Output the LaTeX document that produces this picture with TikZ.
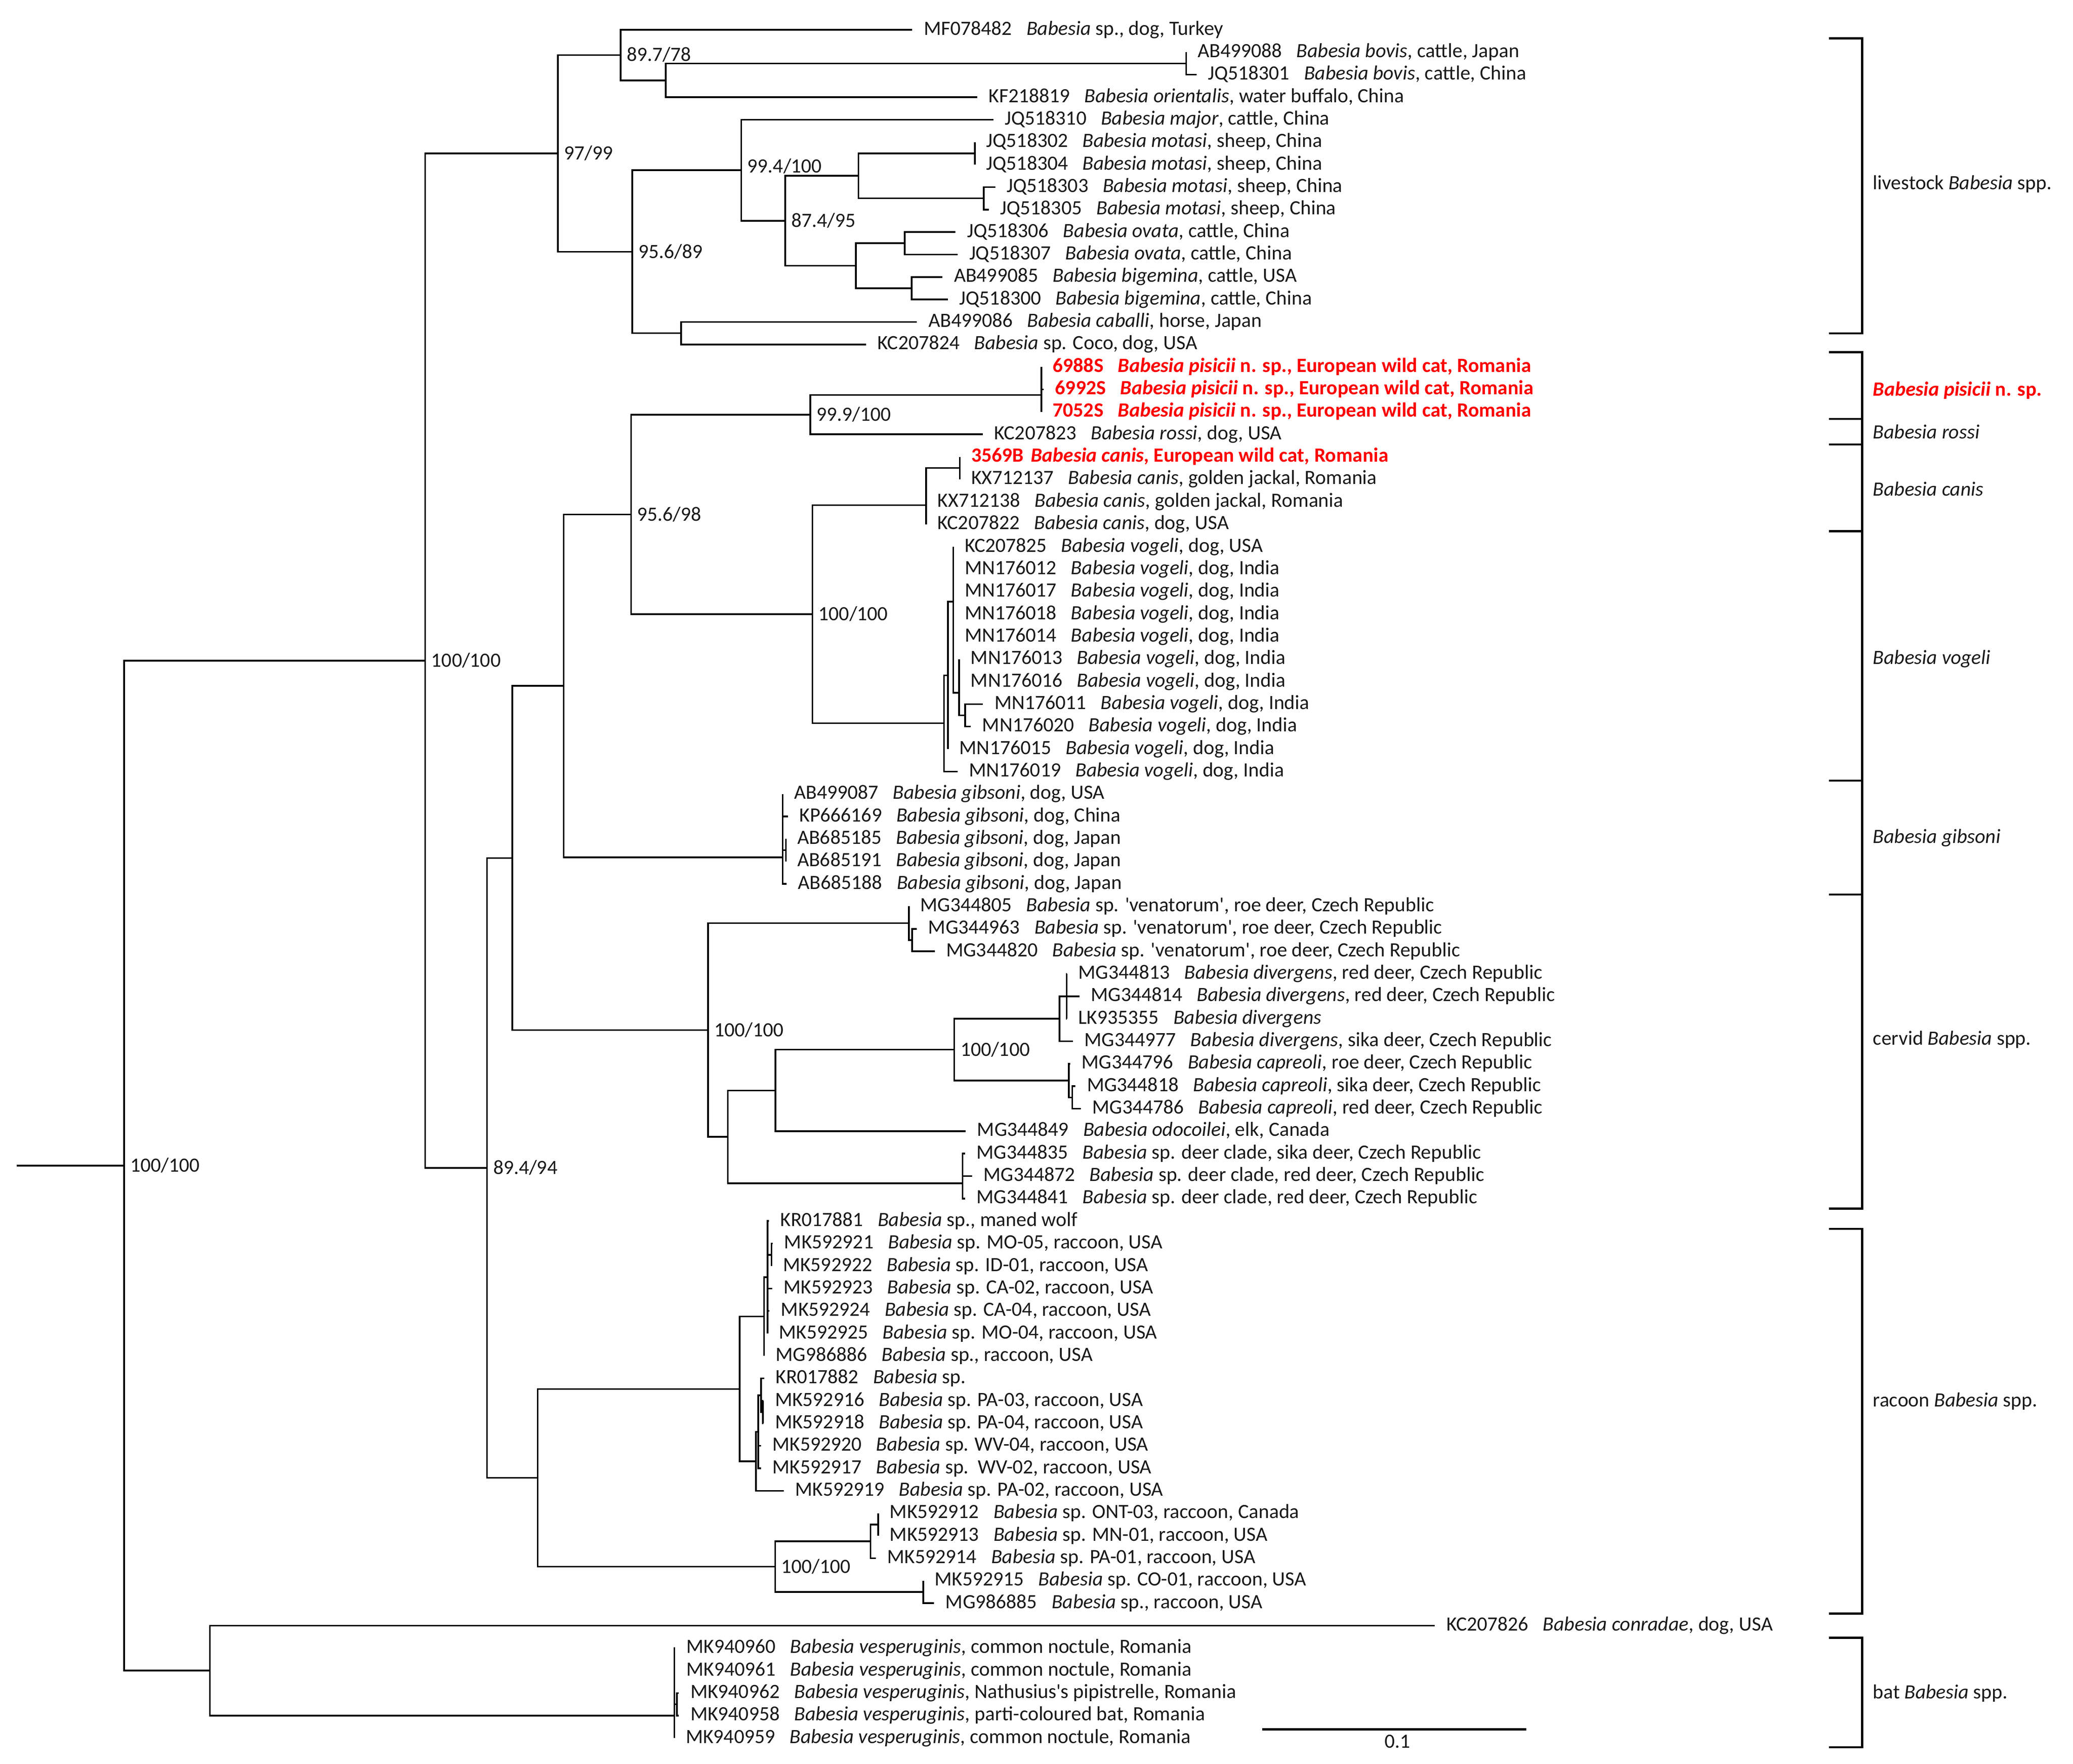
\documentclass[tikz,border=0pt]{standalone}
\usepackage{fontspec}
\setmainfont{Carlito}
\usetikzlibrary{calc}
\definecolor{txt}{RGB}{25,25,25}
\definecolor{pred}{RGB}{255,0,0}
\newcommand\Bab{\textit{Babesia}}
\newcommand\sq{\textquotesingle}
\newcommand\lf[6][11pt]{\coordinate (#2) at (#3,#4); \node[leaf] (t#2) at (#2) {#5\hspace{#1}#6};}
\newcommand\rlf[6][11pt]{\coordinate (#2) at (#3,#4); \node[leaf,text=pred] (t#2) at (#2) {\bfseries #5\hspace{#1}#6};}
\newcommand\nd[3]{\coordinate (#1) at (#2,#3);}
\newcommand\ed[2]{\foreach \ch in {#2}{\draw[br] (\ch) -| (#1);}}
\begin{document}
\begin{tikzpicture}[x=1pt,y=-1pt,
  br/.style={line width=1.25pt, black},
  leaf/.style={anchor=base west, inner sep=0pt, xshift=8.5pt, yshift=-3.9pt, text=txt, font=\fontsize{15.3}{18}\selectfont},
  bs/.style={anchor=base west, inner sep=0pt, xshift=4.5pt, yshift=-4.8pt, text=txt, font=\fontsize{15.3}{18}\selectfont},
  clade/.style={anchor=base west, inner sep=0pt, yshift=-4.8pt, text=txt, font=\fontsize{15.3}{18}\selectfont},
  brk/.style={line width=1.6pt, black}]
\useasboundingbox (0,0) rectangle (1568,1333.8);
% ---------------- leaves ----------------
\lf{L1}{690.1}{22.5}{MF078482}{\Bab{} sp., dog, Turkey}
\lf{L2}{897.2}{39.5}{AB499088}{\textit{Babesia bovis}, cattle, Japan}
\lf{L3}{905}{56.5}{JQ518301}{\textit{Babesia bovis}, cattle, China}
\lf{L4}{739.1}{73.5}{KF218819}{\textit{Babesia orientalis}, water buffalo, China}
\lf{L5}{751.4}{90.5}{JQ518310}{\textit{Babesia major}, cattle, China}
\lf{L6}{737.4}{107.5}{JQ518302}{\textit{Babesia motasi}, sheep, China}
\lf{L7}{737.4}{124.5}{JQ518304}{\textit{Babesia motasi}, sheep, China}
\lf{L8}{752.8}{141.5}{JQ518303}{\textit{Babesia motasi}, sheep, China}
\lf{L9}{747.9}{158.5}{JQ518305}{\textit{Babesia motasi}, sheep, China}
\lf{L10}{722.8}{175.5}{JQ518306}{\textit{Babesia ovata}, cattle, China}
\lf{L11}{724.5}{192.5}{JQ518307}{\textit{Babesia ovata}, cattle, China}
\lf{L12}{712.9}{209.5}{AB499085}{\textit{Babesia bigemina}, cattle, USA}
\lf{L13}{717}{226.5}{JQ518300}{\textit{Babesia bigemina}, cattle, China}
\lf{L14}{693.6}{243.5}{AB499086}{\textit{Babesia caballi}, horse, Japan}
\lf{L15}{655.2}{260.5}{KC207824}{\Bab{} sp. Coco, dog, USA}
\rlf{L16}{787.7}{277.5}{6988S}{\textit{Babesia pisicii} n. sp., European wild cat, Romania}
\rlf{L17}{789.5}{294.5}{6992S}{\textit{Babesia pisicii} n. sp., European wild cat, Romania}
\rlf{L18}{787.7}{311.5}{7052S}{\textit{Babesia pisicii} n. sp., European wild cat, Romania}
\lf{L19}{743.4}{328.5}{KC207823}{\textit{Babesia rossi}, dog, USA}
\rlf[5.5pt]{L20}{725.9}{345.5}{3569B}{\textit{Babesia canis}, European wild cat, Romania}
\lf{L21}{725.9}{362.5}{KX712137}{\textit{Babesia canis}, golden jackal, Romania}
\lf{L22}{700.5}{379.5}{KX712138}{\textit{Babesia canis}, golden jackal, Romania}
\lf{L23}{700.5}{396.5}{KC207822}{\textit{Babesia canis}, dog, USA}
\lf{L24}{721}{413.5}{KC207825}{\textit{Babesia vogeli}, dog, USA}
\lf{L25}{721}{430.5}{MN176012}{\textit{Babesia vogeli}, dog, India}
\lf{L26}{721}{447.5}{MN176017}{\textit{Babesia vogeli}, dog, India}
\lf{L27}{721}{464.5}{MN176018}{\textit{Babesia vogeli}, dog, India}
\lf{L28}{721}{481.5}{MN176014}{\textit{Babesia vogeli}, dog, India}
\lf{L29}{725.5}{498.5}{MN176013}{\textit{Babesia vogeli}, dog, India}
\lf{L30}{725.5}{515.5}{MN176016}{\textit{Babesia vogeli}, dog, India}
\lf{L31}{743.5}{532.5}{MN176011}{\textit{Babesia vogeli}, dog, India}
\lf{L32}{734.3}{549.5}{MN176020}{\textit{Babesia vogeli}, dog, India}
\lf{L33}{717}{566.5}{MN176015}{\textit{Babesia vogeli}, dog, India}
\lf{L34}{724.3}{583.5}{MN176019}{\textit{Babesia vogeli}, dog, India}
\lf{L35}{592}{600.5}{AB499087}{\textit{Babesia gibsoni}, dog, USA}
\lf{L36}{596}{617.5}{KP666169}{\textit{Babesia gibsoni}, dog, China}
\lf{L37}{594.4}{634.5}{AB685185}{\textit{Babesia gibsoni}, dog, Japan}
\lf{L38}{594.4}{651.5}{AB685191}{\textit{Babesia gibsoni}, dog, Japan}
\lf{L39}{595}{668.5}{AB685188}{\textit{Babesia gibsoni}, dog, Japan}
\lf{L40}{687.4}{685.5}{MG344805}{\Bab{} sp. \sq venatorum\sq, roe deer, Czech Republic}
\lf{L41}{693.5}{702.5}{MG344963}{\Bab{} sp. \sq venatorum\sq, roe deer, Czech Republic}
\lf{L42}{707}{719.5}{MG344820}{\Bab{} sp. \sq venatorum\sq, roe deer, Czech Republic}
\lf{L43}{807}{736.5}{MG344813}{\textit{Babesia divergens}, red deer, Czech Republic}
\lf{L44}{816.5}{753.5}{MG344814}{\textit{Babesia divergens}, red deer, Czech Republic}
\lf{L45}{807}{770.5}{LK935355}{\textit{Babesia divergens}}
\lf{L46}{811.5}{787.5}{MG344977}{\textit{Babesia divergens}, sika deer, Czech Republic}
\lf{L47}{809.5}{804.5}{MG344796}{\textit{Babesia capreoli}, roe deer, Czech Republic}
\lf{L48}{813.5}{821.5}{MG344818}{\textit{Babesia capreoli}, sika deer, Czech Republic}
\lf{L49}{817.5}{838.5}{MG344786}{\textit{Babesia capreoli}, red deer, Czech Republic}
\lf{L50}{730.4}{855.5}{MG344849}{\textit{Babesia odocoilei}, elk, Canada}
\lf{L51}{730}{872.5}{MG344835}{\Bab{} sp. deer clade, sika deer, Czech Republic}
\lf{L52}{735.2}{889.5}{MG344872}{\Bab{} sp. deer clade, red deer, Czech Republic}
\lf{L53}{730}{906.5}{MG344841}{\Bab{} sp. deer clade, red deer, Czech Republic}
\lf{L54}{581.5}{923.5}{KR017881}{\Bab{} sp., maned wolf}
\lf{L55}{584.5}{940.5}{MK592921}{\Bab{} sp. MO-05, raccoon, USA}
\lf{L56}{583.5}{957.5}{MK592922}{\Bab{} sp. ID-01, raccoon, USA}
\lf{L57}{584}{974.5}{MK592923}{\Bab{} sp. CA-02, raccoon, USA}
\lf{L58}{582}{991.5}{MK592924}{\Bab{} sp. CA-04, raccoon, USA}
\lf{L59}{580.5}{1008.5}{MK592925}{\Bab{} sp. MO-04, raccoon, USA}
\lf{L60}{578}{1025.5}{MG986886}{\Bab{} sp., raccoon, USA}
\lf{L61}{578}{1042.5}{KR017882}{\Bab{} sp.}
\lf{L62}{577.5}{1059.5}{MK592916}{\Bab{} sp. PA-03, raccoon, USA}
\lf{L63}{577.5}{1076.5}{MK592918}{\Bab{} sp. PA-04, raccoon, USA}
\lf{L64}{575.5}{1093.5}{MK592920}{\Bab{} sp. WV-04, raccoon, USA}
\lf{L65}{575.5}{1110.5}{MK592917}{\Bab{} sp.\hspace{7pt}WV-02, raccoon, USA}
\lf{L66}{592.7}{1127.5}{MK592919}{\Bab{} sp. PA-02, raccoon, USA}
\lf{L67}{664.3}{1144.5}{MK592912}{\Bab{} sp. ONT-03, raccoon, Canada}
\lf{L68}{664.3}{1161.5}{MK592913}{\Bab{} sp. MN-01, raccoon, USA}
\lf{L69}{662.5}{1178.5}{MK592914}{\Bab{} sp. PA-01, raccoon, USA}
\lf{L70}{698.3}{1195.5}{MK592915}{\Bab{} sp. CO-01, raccoon, USA}
\lf{L71}{706.5}{1212.5}{MG986885}{\Bab{} sp., raccoon, USA}
\lf{L72}{1085.3}{1229.5}{KC207826}{\textit{Babesia conradae}, dog, USA}
\lf{L73}{510.5}{1246.5}{MK940960}{\textit{Babesia vesperuginis}, common noctule, Romania}
\lf{L74}{510.5}{1263.5}{MK940961}{\textit{Babesia vesperuginis}, common noctule, Romania}
\lf{L75}{513.5}{1280.5}{MK940962}{\textit{Babesia vesperuginis}, Nathusius\sq s pipistrelle, Romania}
\lf{L76}{513.5}{1297.5}{MK940958}{\textit{Babesia vesperuginis}, parti-coloured bat, Romania}
\lf{L77}{510}{1314.5}{MK940959}{\textit{Babesia vesperuginis}, common noctule, Romania}
% ---------------- internal nodes ----------------
\nd{Bv}{897.2}{48}
\nd{N503}{503.6}{60.75}
\nd{N469}{469.5}{41.6}
\nd{M1}{737.4}{116}
\nd{M2}{744.1}{150}
\nd{N649}{649.3}{133}
\nd{O1}{684.3}{184}
\nd{O2}{689.6}{218}
\nd{N647}{647.3}{201}
\nd{N594}{594}{167}
\nd{N560}{560.7}{128.75}
\nd{N515}{515.2}{252}
\nd{N478}{478.2}{190.4}
\nd{N422}{422}{116}
\nd{R1}{787.7}{286}
\nd{R}{787.7}{298.75}
\nd{N613}{612.9}{313.6}
\nd{C1}{725.9}{354}
\nd{C0}{700.5}{382}
\nd{V4}{730}{541}
\nd{V3}{725.5}{524}
\nd{V2}{721}{455}
\nd{V1}{717}{510.75}
\nd{V0}{714}{547}
\nd{N614}{614.5}{464.5}
\nd{N477}{477.3}{389.05}
\nd{G1}{594.4}{643}
\nd{G0}{592}{648.4}
\nd{N426}{426.3}{518.7}
\nd{Vn1}{690}{711}
\nd{Vn}{687.4}{698.25}
\nd{Dv1}{806.8}{753.5}
\nd{Dv}{801.4}{770.5}
\nd{Cp1}{811}{830}
\nd{Cp}{808.5}{817.25}
\nd{N721}{721.8}{793.9}
\nd{N586}{586.5}{824.7}
\nd{Dc}{728}{895}
\nd{N550}{550.5}{859.85}
\nd{N535}{535.5}{779.1}
\nd{N387}{387.5}{648.9}
\nd{rC}{583.5}{949}
\nd{rB}{580.5}{966}
\nd{rA}{578}{995.75}
\nd{rG}{577}{1068}
\nd{rF}{575.7}{1055.25}
\nd{rE}{573.5}{1082.9}
\nd{rD}{571.8}{1105.2}
\nd{N559}{559.5}{1050.5}
\nd{rJ}{664.3}{1153}
\nd{rI}{658.4}{1165.75}
\nd{rK}{698.3}{1204}
\nd{rH}{586.3}{1184.9}
\nd{N406}{406.6}{1117.7}
\nd{N368}{368.4}{883.3}
\nd{N322}{321.6}{499.65}
\nd{Bi}{512}{1289}
\nd{Bt}{510}{1297.5}
\nd{N158}{158.8}{1263.5}
\nd{N94}{93.9}{881.6}
\coordinate (root) at (12.8,881.6);
% ---------------- branches ----------------
\ed{Bv}{L2,L3}
\ed{N503}{Bv,L4}
\ed{N469}{L1,N503}
\ed{M1}{L6,L7}
\ed{M2}{L8,L9}
\ed{N649}{M1,M2}
\ed{O1}{L10,L11}
\ed{O2}{L12,L13}
\ed{N647}{O1,O2}
\ed{N594}{N649,N647}
\ed{N560}{L5,N594}
\ed{N515}{L14,L15}
\ed{N478}{N560,N515}
\ed{N422}{N469,N478}
\ed{R1}{L16,L17}
\ed{R}{R1,L18}
\ed{N613}{R,L19}
\ed{C1}{L20,L21}
\ed{C0}{C1,L22,L23}
\ed{V4}{L31,L32}
\ed{V3}{L29,L30,V4}
\ed{V2}{L24,L25,L26,L27,L28,V3}
\ed{V1}{V2,L33}
\ed{V0}{V1,L34}
\ed{N614}{C0,V0}
\ed{N477}{N613,N614}
\ed{G1}{L37,L38}
\ed{G0}{L35,L36,G1,L39}
\ed{N426}{N477,G0}
\ed{Vn1}{L41,L42}
\ed{Vn}{L40,Vn1}
\ed{Dv1}{L43,L44,L45}
\ed{Dv}{Dv1,L46}
\ed{Cp1}{L48,L49}
\ed{Cp}{L47,Cp1}
\ed{N721}{Dv,Cp}
\ed{N586}{N721,L50}
\ed{Dc}{L51,L52,L53}
\ed{N550}{N586,Dc}
\ed{N535}{Vn,N550}
\ed{N387}{N426,N535}
\ed{rC}{L55,L56}
\ed{rB}{L54,rC,L57,L58,L59}
\ed{rA}{rB,L60}
\ed{rG}{L62,L63}
\ed{rF}{L61,rG}
\ed{rE}{rF,L64,L65}
\ed{rD}{rE,L66}
\ed{N559}{rA,rD}
\ed{rJ}{L67,L68}
\ed{rI}{rJ,L69}
\ed{rK}{L70,L71}
\ed{rH}{rI,rK}
\ed{N406}{N559,rH}
\ed{N368}{N387,N406}
\ed{N322}{N422,N368}
\ed{Bi}{L75,L76}
\ed{Bt}{L73,L74,Bi,L77}
\ed{N158}{L72,Bt}
\ed{N94}{N322,N158}
\draw[br] (root) -- (N94);
% ---------------- support values ----------------
\node[bs] (b1) at (N94) {100/100};
\node[bs] (b2) at (N322) {100/100};
\node[bs] (b3) at (N422) {97/99};
\node[bs] (b4) at (N469) {89.7/78};
\node[bs] (b5) at (N478) {95.6/89};
\node[bs,yshift=2.75pt] (b6) at (N560) {99.4/100};
\node[bs] (b7) at (N594) {87.4/95};
\node[bs] (b8) at (N613) {99.9/100};
\node[bs] (b9) at (N477) {95.6/98};
\node[bs] (b10) at (N614) {100/100};
\node[bs] (b11) at (N535) {100/100};
\node[bs] (b12) at (N721) {100/100};
\node[bs] (b13) at (N368) {89.4/94};
\node[bs] (b14) at (rH) {100/100};
% ---------------- scale bar ----------------
\coordinate (sb1) at (954.6,1308);
\coordinate (sb2) at (1154.5,1308);
\draw[line width=1.6pt] (sb1) -- (sb2);
\node[anchor=base, inner sep=0pt, text=txt, font=\fontsize{15.3}{18}\selectfont] (sbl) at ($(sb1)!0.5!(sb2)+(2.5,14)$) {0.1};
% ---------------- clade brackets ----------------
\draw[brk] (1383.4,29) -- (1408.5,29) -- (1408.5,252.2) -- (1383.4,252.2);
\draw[brk] (1383.4,266.4) -- (1408.5,266.4) -- (1408.5,914.1) -- (1383.4,914.1);
\foreach \yy in {316.9,336.1,401.7,590.4,676.6} {\draw[brk] (1383.4,\yy) -- (1408.5,\yy);}
\draw[brk] (1383.4,929.4) -- (1408.5,929.4) -- (1408.5,1220.4) -- (1383.4,1220.4);
\draw[brk] (1383.4,1238.7) -- (1408.5,1238.7) -- (1408.5,1321.5) -- (1383.4,1321.5);
\node[clade] (k1) at (1416.5,138.4) {livestock \Bab{} spp.};
\node[clade,text=pred,font=\fontsize{15.3}{18}\selectfont\bfseries] (k2) at (1416.5,294.6) {\textit{Babesia pisicii} n. sp.};
\node[clade] (k3) at (1416.5,327.1) {\textit{Babesia rossi}};
\node[clade] (k4) at (1416.5,370.4) {\textit{Babesia canis}};
\node[clade] (k5) at (1416.5,497.6) {\textit{Babesia vogeli}};
\node[clade] (k6) at (1416.5,632.9) {\textit{Babesia gibsoni}};
\node[clade] (k7) at (1416.5,785.6) {cervid \Bab{} spp.};
\node[clade] (k8) at (1416.5,1059.2) {racoon \Bab{} spp.};
\node[clade] (k9) at (1416.5,1280.1) {bat \Bab{} spp.};
\end{tikzpicture}
\end{document}
